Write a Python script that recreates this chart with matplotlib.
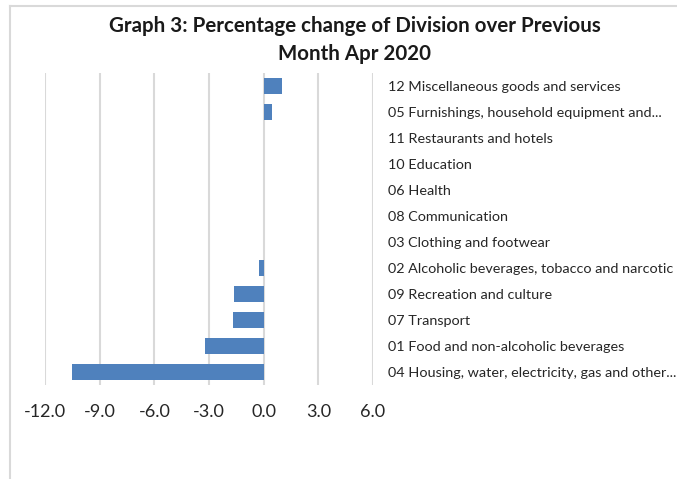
import matplotlib
matplotlib.use("Agg")
import matplotlib.pyplot as plt
from matplotlib.lines import Line2D

categories = [
    "04 Housing, water, electricity, gas and other...",
    "01 Food and non-alcoholic beverages",
    "07 Transport",
    "09 Recreation and culture",
    "02 Alcoholic beverages, tobacco and narcotic",
    "03 Clothing and footwear",
    "08 Communication",
    "06 Health",
    "10 Education",
    "11 Restaurants and hotels",
    "05 Furnishings, household equipment and...",
    "12 Miscellaneous goods and services",
]
values = [-10.5, -3.2, -1.7, -1.65, -0.23, 0.0, 0.0, 0.0, 0.0, 0.0, 0.45, 1.0]
xticks = [-12, -9, -6, -3, 0, 3, 6]
title = "Graph 3: Percentage change of Division over Previous\nMonth Apr 2020"

plt.rcParams['font.family'] = ['Lato', 'DejaVu Sans']

W, H = 677, 479
fig = plt.figure(figsize=(W / 100, H / 100), dpi=100)
ax = fig.add_axes([45 / W, 1 - 385 / H, (373 - 45) / W, (385 - 73) / H])

ypos = list(range(len(categories)))
ax.barh(ypos, values, height=0.58, color='#4f81bd', zorder=3)

ax.set_xlim(-12, 6)
ax.set_ylim(-0.5, len(categories) - 0.5)
ax.set_xticks(xticks)
ax.set_xticklabels([f"{v:.1f}" for v in xticks], fontsize=13, color='#262626')
ax.tick_params(axis='x', length=0, pad=14)
ax.grid(axis='x', color='#d9d9d9', linewidth=1.5, zorder=0)

ax.yaxis.tick_right()
ax.set_yticks(ypos)
ax.set_yticklabels(categories, fontsize=10.4, color='#262626')
ax.tick_params(axis='y', length=0, pad=11)

for s in ax.spines.values():
    s.set_visible(False)

fig.text(355 / W, 1 - 40 / H, title, ha='center', va='center', fontsize=14.8,
         fontweight='bold', color='#1a1a1a', linespacing=1.45)

# chart border (partially visible)
fig.add_artist(Line2D([10 / W, 10 / W], [0, 1 - 6 / H], transform=fig.transFigure,
                      color='#d9d9d9', linewidth=1.5))
fig.add_artist(Line2D([10 / W, 1], [1 - 6 / H, 1 - 6 / H], transform=fig.transFigure,
                      color='#d9d9d9', linewidth=1.5))

fig.savefig("out.png", dpi=100)
